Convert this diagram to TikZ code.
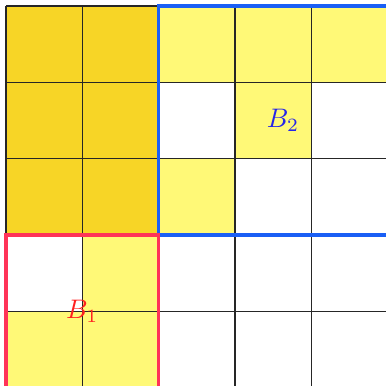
\documentclass[tikz,border=0pt]{standalone}
\usepackage{tikz}
\usetikzlibrary{positioning}
\definecolor{deep}{HTML}{F7D526}
\definecolor{pale}{HTML}{FFF977}
\definecolor{boxblue}{HTML}{1A5FF5}
\definecolor{boxred}{HTML}{FF3358}
\definecolor{labblue}{HTML}{2525E8}
\definecolor{labred}{HTML}{FF1F1F}
\tikzset{
  blockbox/.style={line width=1.2pt},
  gridline/.style={line width=0.5pt,black!85}
}

\begin{document}
\begin{tikzpicture}[x=1cm,y=1cm]
  \useasboundingbox (-0.079,0.02) rectangle (4.97,5.079);

  % filled cells
  \fill[deep] (0,2) rectangle (2,5);
  \fill[pale] (2,4) rectangle (5,5);
  \fill[pale] (3,3) rectangle (4,4);
  \fill[pale] (2,2) rectangle (3,3);
  \fill[pale] (1,1) rectangle (2,2);
  \fill[pale] (0,0) rectangle (2,1);

  \draw[gridline] (0,0) grid (5,5);

  % the two blocks
  \draw[blockbox,boxblue] (2,2) rectangle (5,5);
  \draw[blockbox,boxred] (0,0) rectangle (2,2);

  \node[labblue] (b2) at (3.63,3.5) {$B_2$};
  \node[labred] (b1) at (1,1) {$B_1$};
\end{tikzpicture}
\end{document}
